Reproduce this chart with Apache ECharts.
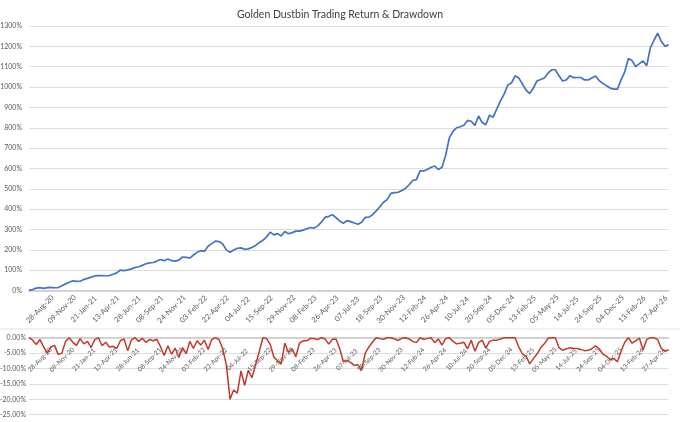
<!DOCTYPE html>
<html>
<head>
<meta charset="utf-8">
<script src="https://cdn.jsdelivr.net/npm/echarts@6/dist/echarts.min.js"></script>
<style>
html,body{margin:0;padding:0;background:#fff;}
#chart{width:680px;height:422px;}
</style>
</head>
<body>
<div id="chart"></div>
<script>
const chartTitle = 'Golden Dustbin Trading Return & Drawdown';

const tickLabels = ['28-Aug-20','09-Nov-20','21-Jan-21','13-Apr-21','28-Jun-21','08-Sep-21','24-Nov-21','03-Feb-22','22-Apr-22','04-Jul-22','15-Sep-22','29-Nov-22','08-Feb-23','26-Apr-23','07-Jul-23','18-Sep-23','30-Nov-23','12-Feb-24','26-Apr-24','10-Jul-24','20-Sep-24','05-Dec-24','13-Feb-25','05-May-25','14-Jul-25','24-Sep-25','04-Dec-25','13-Feb-26','27-Apr-26'];

// cumulative return, %
const returnPct = [
  2,5,12,15,11,15,16,14,15,24,
  33,41,48,45,46,55,60,66,72,74,
  74,73,74,80,87,101,98,102,107,113,
  117,124,132,136,138,145,153,147,155,147,
  145,150,165,163,160,175,188,196,193,218,
  231,243,241,229,200,188,199,208,210,203,
  205,212,222,236,247,264,287,274,280,268,
  290,279,285,292,292,297,304,310,307,318,
  336,360,365,373,358,342,331,344,339,332,
  326,336,360,361,373,392,412,434,447,478,
  481,483,492,502,520,541,545,588,588,595,
  606,612,595,606,665,750,782,800,805,812,
  836,832,812,858,826,815,862,852,893,932,
  965,1010,1020,1055,1045,1015,985,968,995,1030,
  1037,1045,1068,1085,1085,1055,1030,1035,1056,1046,
  1047,1047,1035,1035,1045,1054,1032,1018,1006,995,
  990,990,1035,1075,1140,1130,1100,1115,1128,1105,
  1192,1230,1265,1225,1200,1208
];

// drawdown, %
const drawdownPct = [
  0,-0.8,-2.2,-0.6,-3.0,-5.0,-3.0,-2.5,-5.5,-5.0,
  -1.2,0,-1.5,-2.5,-0.3,-2.0,-1.2,-3.2,-0.6,0,
  -2.6,-1.5,-3.0,-2.8,-3.5,-1.0,-0.4,-4.2,-0.8,0,
  -1.2,-0.2,-1.5,-0.6,-1.0,-0.5,-3.0,-5.8,-2.6,-5.4,
  -3.4,-6.4,-3.2,-5.2,-1.2,-3.5,-1.0,-2.4,-0.8,-3.8,
  -0.6,0,-0.6,-3.6,-8.8,-20.0,-17.0,-18.0,-10.8,-15.5,
  -10.6,-13.0,-8.8,-4.5,0,-0.3,-2.2,-6.3,-7.5,-8.6,
  -1.8,-4.8,-3.6,-6.2,-1.8,-1.0,-1.0,-0.2,-0.3,-0.6,
  0,-0.4,-2.1,-0.5,-0.4,-3.5,-7.8,-7.4,-8.0,-9.0,
  -8.8,-10.6,-5.0,-3.0,-1.4,0,-0.3,-0.5,0,0,
  -0.4,-0.9,-0.2,0,-0.4,-1.2,-1.6,0,-0.5,-0.3,
  0,-1.6,-0.4,-2.4,-0.3,0,-1.2,-2.0,-1.8,-1.5,
  -3.6,-0.8,-4.4,-1.6,-0.8,-3.4,-1.2,-0.8,-0.8,-0.4,
  0,0,0,0,-3.0,-5.3,-6.0,-8.5,-6.8,-5.3,
  -3.3,-2.0,-0.2,0,0,-3.2,-4.1,-3.6,-3.3,-3.5,
  -3.5,-3.8,-4.2,-4.1,-3.6,-2.6,-3.6,-5.3,-6.0,-7.1,
  -6.8,-7.8,-4.4,-1.5,0,-1.8,-1.0,-0.1,-4.0,-0.6,
  0,0,-0.6,-3.5,-4.4,-3.9
];

// one category per sample; a date label sits on every 6th sample starting at sample 3
const labelEvery = 6, labelStart = 3;
const categories = returnPct.map(function (v, i) {
  const k = (i - labelStart) / labelEvery;
  return (i >= labelStart && Number.isInteger(k) && k < tickLabels.length) ? tickLabels[k] : '';
});

const FONT = 'Lato, "Open Sans", sans-serif';
const chart = echarts.init(document.getElementById('chart'), null, {renderer: 'canvas'});

function labelCfg(margin, size, inside, rot) {
  return {
    interval: function (i, v) { return v !== ''; },
    rotate: rot,
    align: 'center',
    verticalAlign: 'middle',
    inside: !!inside,
    margin: margin,
    fontSize: size,
    color: '#595959',
    fontFamily: FONT,
    hideOverlap: false
  };
}

chart.setOption({
  animation: false,
  backgroundColor: '#ffffff',
  title: {
    text: chartTitle,
    left: 'center',
    top: 4,
    textStyle: {fontSize: 10.5, fontWeight: 'normal', color: '#404040', fontFamily: FONT}
  },
  graphic: [{
    type: 'line',
    shape: {x1: 0, y1: 329, x2: 680, y2: 329},
    style: {stroke: '#E4E4E4', lineWidth: 1}
  }],
  grid: [
    {left: 29, right: 11.4, top: 26, height: 264.6, outerBoundsMode: 'none', containLabel: false},
    {left: 29, right: 11.4, top: 337.7, height: 77, outerBoundsMode: 'none', containLabel: false}
  ],
  xAxis: [
    {
      type: 'category', gridIndex: 0, data: categories, boundaryGap: false,
      axisTick: {show: false}, splitLine: {show: false},
      axisLine: {onZero: false, lineStyle: {color: '#C9C9C9', width: 1.6}},
      axisLabel: labelCfg(18.5, 7.5, false, 45)
    },
    {
      type: 'category', gridIndex: 1, data: categories, boundaryGap: false,
      position: 'top',
      axisTick: {show: false}, splitLine: {show: false},
      axisLine: {onZero: false, lineStyle: {color: '#C9C9C9', width: 1.6}},
      axisLabel: labelCfg(22, 6.5, true, -45)
    }
  ],
  yAxis: [
    {
      type: 'value', gridIndex: 0, min: 0, max: 1300, interval: 100,
      axisLine: {show: false}, axisTick: {show: false},
      splitLine: {lineStyle: {color: '#DDDDDD', width: 1}},
      axisLabel: {
        formatter: function (v) { return v + '%'; },
        fontSize: 7, color: '#595959', margin: 7, fontFamily: FONT
      }
    },
    {
      type: 'value', gridIndex: 1, min: -25, max: 0, interval: 5,
      axisLine: {show: false}, axisTick: {show: false},
      splitLine: {lineStyle: {color: '#DDDDDD', width: 1}},
      axisLabel: {
        formatter: function (v) { return v.toFixed(2) + '%'; },
        fontSize: 7, color: '#595959', margin: 3, fontFamily: FONT
      }
    }
  ],
  series: [
    {
      name: 'Return', type: 'line', xAxisIndex: 0, yAxisIndex: 0,
      data: returnPct, showSymbol: false, symbol: 'none',
      lineStyle: {color: '#4472C4', width: 1.7}
    },
    {
      name: 'Drawdown', type: 'line', xAxisIndex: 1, yAxisIndex: 1,
      data: drawdownPct, showSymbol: false, symbol: 'none',
      lineStyle: {color: '#C0392B', width: 1.5}
    }
  ]
});
</script>
</body>
</html>
